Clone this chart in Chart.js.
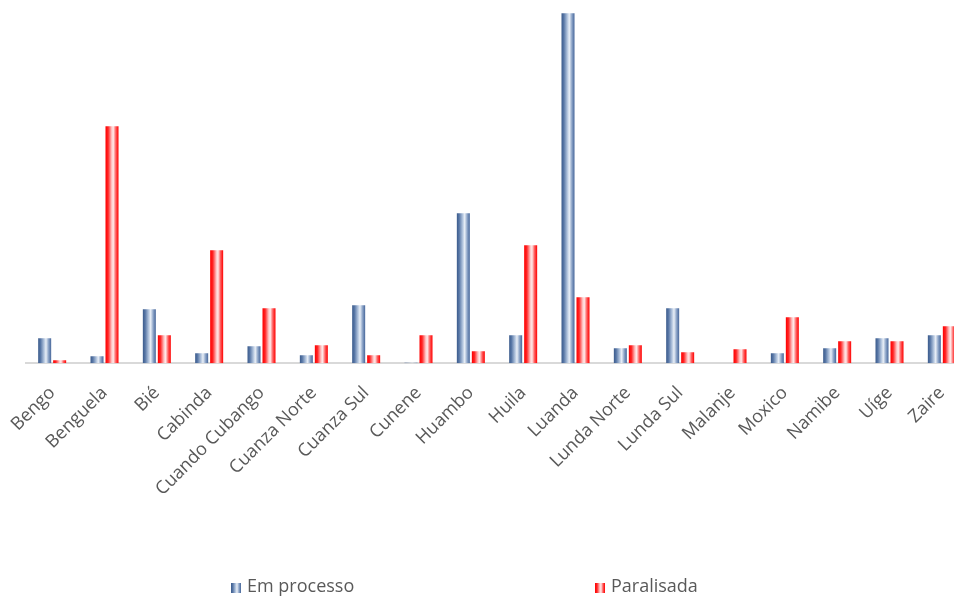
<!DOCTYPE html>
<html>
<head>
<meta charset="utf-8">
<script src="https://cdn.jsdelivr.net/npm/chart.js@4"></script>
<style>
  html, body { margin: 0; padding: 0; background: #fff; overflow: hidden; }
  #wrap { width: 968px; height: 596px; position: relative; }
</style>
</head>
<body>
<div id="wrap"><canvas id="provChart"></canvas></div>
<script>
const provincias = ["Bengo", "Benguela", "Bié", "Cabinda", "Cuando Cubango", "Cuanza Norte",
  "Cuanza Sul", "Cunene", "Huambo", "Huila", "Luanda", "Lunda Norte", "Lunda Sul",
  "Malanje", "Moxico", "Namibe", "Uíge", "Zaire"];
const emProcesso = [25, 7, 54, 10, 17, 8, 58, 0.5, 150, 28, 350, 15, 55, 0, 10, 15, 25, 28];
const paralisada = [3, 237, 28, 113, 55, 18, 8, 28, 12, 118, 66, 18, 11, 14, 46, 22, 22, 37];
const seriesNames = ["Em processo", "Paralisada"];

const blueStops = [[0, '#3b5b8c'], [0.18, '#5877a6'], [0.45, '#b3c5de'], [0.6, '#e9eff7'], [0.8, '#8ba3c7'], [1, '#46669a']];
const redStops = [[0, '#ff0000'], [0.2, '#ff2424'], [0.48, '#ffc8c8'], [0.6, '#ffeaea'], [0.8, '#ff5a5a'], [1, '#ff0000']];

function makeGrad(ctx, x0, x1, stops) {
  const g = ctx.createLinearGradient(x0, 0, x1, 0);
  stops.forEach(s => g.addColorStop(s[0], s[1]));
  return g;
}

// gradient across each bar, follows the bar's own x position
function barFill(stops, side) {
  return (c) => {
    const chart = c.chart;
    if (!chart.chartArea || c.type !== 'data') return stops[0][1];
    const xs = chart.scales.x;
    const catW = xs.width / xs.ticks.length;
    const slot = catW * 0.573 / 2;
    const w = slot * 0.867;
    const cx = xs.getPixelForValue(c.dataIndex) + side * slot / 2;
    return makeGrad(chart.ctx, cx - w / 2, cx + w / 2, stops);
  };
}

const legendPlugin = {
  id: 'xlLegend',
  afterDraw(chart) {
    const ctx = chart.ctx;
    const items = [
      {text: seriesNames[0], stops: blueStops, x: 231},
      {text: seriesNames[1], stops: redStops, x: 595}
    ];
    ctx.save();
    ctx.font = '18px "Open Sans"';
    ctx.textBaseline = 'middle';
    items.forEach(it => {
      ctx.fillStyle = makeGrad(ctx, it.x, it.x + 10, it.stops);
      ctx.fillRect(it.x, 583, 10, 10);
      ctx.fillStyle = '#595959';
      ctx.fillText(it.text, it.x + 16, 587);
    });
    ctx.restore();
  }
};

new Chart(document.getElementById('provChart'), {
  type: 'bar',
  data: {
    labels: provincias,
    datasets: [
      {label: seriesNames[0], data: emProcesso, backgroundColor: barFill(blueStops, -1), borderWidth: 0,
       categoryPercentage: 0.573, barPercentage: 0.867},
      {label: seriesNames[1], data: paralisada, backgroundColor: barFill(redStops, 1), borderWidth: 0,
       categoryPercentage: 0.573, barPercentage: 0.867}
    ]
  },
  options: {
    responsive: true,
    maintainAspectRatio: false,
    animation: false,
    layout: {padding: {left: 26, right: 0, top: 5.3, bottom: 0}},
    plugins: {legend: {display: false}, tooltip: {enabled: false}},
    scales: {
      x: {
        grid: {display: false, drawTicks: false},
        border: {display: true, color: '#d9d9d9', width: 2},
        ticks: {
          autoSkip: false, minRotation: 45, maxRotation: 45, padding: 19,
          color: '#595959', font: {family: 'Open Sans', size: 18}
        },
        afterFit(scale) {
          scale.height = 232.7;
          scale.paddingLeft = 0;
          scale.paddingRight = 0;
        }
      },
      y: {display: false, min: 0, max: 358}
    }
  },
  plugins: [legendPlugin]
});
</script>
</body>
</html>
